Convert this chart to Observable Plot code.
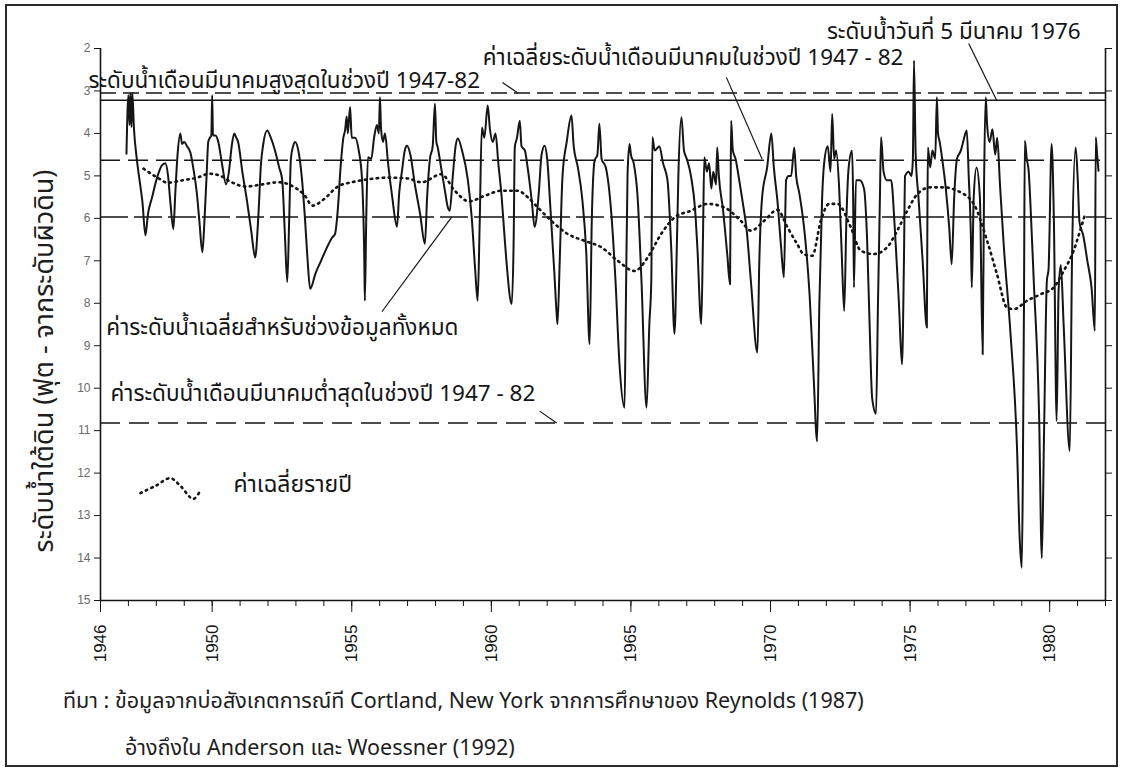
<!DOCTYPE html>
<html>
<head>
<meta charset="utf-8">
<script src="https://cdn.jsdelivr.net/npm/d3@7"></script>
<script src="https://cdn.jsdelivr.net/npm/@observablehq/plot@0.6"></script>
<style>
  body { margin: 0; background: #fff; }
  #wrap { position: relative; width: 1125px; height: 771px; overflow: hidden;
          font-family: "Noto Sans Thai", "Noto Serif Thai", "Loma", "Garuda", "Norasi", "Liberation Sans", "DejaVu Sans", sans-serif;
          color: #1e1e1e; }
  .frame { position: absolute; left: 5px; top: 4px; width: 1113px; height: 763px;
           border: 2px solid #2a2a2a; box-sizing: border-box; }
  #chart { position: absolute; left: 0; top: 0; }
  .ylab { position: absolute; left: 44px; top: 361px; transform: translate(-50%, -50%) rotate(-90deg);
          white-space: nowrap; font-size: 27px; }
  .cap { position: absolute; white-space: nowrap; font-size: 21.5px; transform: translateY(-50%); }
</style>
</head>
<body>
<div id="wrap">
  <div class="frame"></div>
  <div id="chart"></div>
  <div class="ylab">ระดับน้ำใต้ดิน (ฟุต - จากระดับผิวดิน)</div>
  <div class="cap" style="left:63px; top:701px;">ทีมา : ข้อมูลจากบ่อสังเกตการณ์ที Cortland, New York จากการศึกษาของ Reynolds (1987)</div>
  <div class="cap" style="left:125px; top:748px;">อ้างถึงใน Anderson และ Woessner (1992)</div>
</div>
<script>
// Depth to groundwater (ft below land surface), Cortland NY observation well: [year, depth]
const hydrograph = [
  [1946.93,4.48],[1947.00,3.10],[1947.04,3.80],[1947.07,3.05],[1947.11,3.85],[1947.14,3.05],[1947.20,3.90],
  [1947.30,4.60],[1947.42,5.20],[1947.50,5.60],[1947.61,6.40],[1947.70,5.90],[1947.85,5.50],[1948.00,5.10],
  [1948.20,4.75],[1948.32,4.70],[1948.42,5.00],[1948.50,5.60],[1948.61,6.25],[1948.68,5.40],[1948.76,4.50],
  [1948.86,4.00],[1948.92,4.25],[1949.00,4.20],[1949.10,4.30],[1949.22,4.45],[1949.32,4.80],[1949.45,5.40],
  [1949.54,6.05],[1949.65,6.80],[1949.72,6.10],[1949.80,5.00],[1949.86,4.20],[1949.92,4.10],[1949.97,4.05],
  [1950.00,3.10],[1950.03,4.05],[1950.12,4.05],[1950.22,4.20],[1950.36,4.75],[1950.50,5.20],[1950.60,4.90],
  [1950.70,4.30],[1950.79,4.00],[1950.86,4.10],[1950.93,4.20],[1951.08,4.90],[1951.25,5.60],[1951.40,6.30],
  [1951.54,6.92],[1951.65,6.00],[1951.75,4.70],[1951.83,4.25],[1951.97,3.93],[1952.10,4.10],[1952.25,4.40],
  [1952.40,4.80],[1952.51,5.10],[1952.60,6.30],[1952.69,7.50],[1952.76,6.00],[1952.82,4.60],[1952.90,4.30],
  [1952.97,4.20],[1953.10,4.45],[1953.22,5.10],[1953.33,6.06],[1953.42,7.00],[1953.51,7.66],[1953.70,7.30],
  [1953.90,7.00],[1954.10,6.70],[1954.30,6.45],[1954.40,6.37],[1954.50,5.80],[1954.60,4.80],[1954.70,4.10],
  [1954.76,3.93],[1954.82,3.60],[1954.86,4.00],[1954.94,3.38],[1955.00,4.10],[1955.12,4.10],[1955.25,4.40],
  [1955.37,5.10],[1955.45,7.00],[1955.47,7.94],[1955.52,6.00],[1955.58,4.56],[1955.70,4.60],[1955.80,4.10],
  [1955.90,3.80],[1955.97,4.00],[1956.01,3.15],[1956.05,3.90],[1956.12,4.20],[1956.19,4.00],[1956.30,4.70],
  [1956.45,5.50],[1956.62,6.20],[1956.70,5.40],[1956.80,4.88],[1956.90,4.40],[1956.98,4.29],[1957.10,4.50],
  [1957.26,5.20],[1957.45,5.90],[1957.62,6.60],[1957.70,5.50],[1957.80,4.60],[1957.90,4.30],[1957.98,3.30],
  [1958.03,4.20],[1958.08,4.33],[1958.20,4.80],[1958.35,5.40],[1958.44,5.74],[1958.51,5.82],[1958.62,5.00],
  [1958.72,4.30],[1958.80,4.12],[1958.95,4.40],[1959.16,5.10],[1959.30,6.00],[1959.42,7.20],[1959.51,7.94],
  [1959.58,6.20],[1959.66,3.86],[1959.75,4.10],[1959.87,3.34],[1959.95,3.90],[1960.05,4.20],[1960.15,4.00],
  [1960.25,4.70],[1960.37,5.50],[1960.47,6.40],[1960.55,7.08],[1960.73,8.02],[1960.80,6.50],[1960.84,4.33],
  [1960.92,4.10],[1961.02,3.70],[1961.08,4.30],[1961.20,4.40],[1961.30,4.80],[1961.45,5.60],[1961.55,6.20],
  [1961.70,5.40],[1961.80,4.50],[1961.91,4.29],[1962.00,4.60],[1962.12,5.80],[1962.25,7.20],[1962.34,8.25],
  [1962.37,8.49],[1962.45,7.00],[1962.55,5.00],[1962.70,4.20],[1962.87,3.58],[1962.95,4.30],[1963.10,4.80],
  [1963.25,5.50],[1963.40,6.80],[1963.52,8.96],[1963.60,6.00],[1963.70,4.64],[1963.80,4.50],[1963.87,3.77],
  [1963.95,4.60],[1964.10,4.80],[1964.30,5.90],[1964.45,7.50],[1964.59,9.43],[1964.77,10.46],[1964.82,8.00],
  [1964.88,4.95],[1964.95,4.25],[1965.00,4.50],[1965.10,4.70],[1965.24,5.50],[1965.38,7.50],[1965.56,10.46],
  [1965.66,8.50],[1965.73,7.47],[1965.77,4.09],[1965.85,4.40],[1966.02,4.30],[1966.15,4.70],[1966.31,5.10],
  [1966.45,6.80],[1966.56,8.72],[1966.65,6.50],[1966.70,5.00],[1966.81,3.62],[1966.90,4.40],[1967.00,4.60],
  [1967.15,5.00],[1967.30,5.80],[1967.38,6.68],[1967.52,8.49],[1967.58,6.50],[1967.63,4.56],[1967.72,4.90],
  [1967.80,4.70],[1967.88,5.30],[1967.95,4.90],[1968.05,5.20],[1968.09,4.33],[1968.15,5.00],[1968.30,5.80],
  [1968.45,6.84],[1968.55,7.55],[1968.57,5.50],[1968.59,3.70],[1968.65,4.40],[1968.75,4.60],[1968.88,5.10],
  [1969.00,5.60],[1969.15,6.30],[1969.30,7.50],[1969.53,9.16],[1969.60,7.00],[1969.70,5.50],[1969.88,4.80],
  [1970.03,4.00],[1970.12,4.80],[1970.25,5.60],[1970.38,6.68],[1970.48,7.39],[1970.56,5.10],[1970.65,5.00],
  [1970.74,5.00],[1970.85,4.33],[1970.92,5.00],[1971.03,5.40],[1971.20,6.20],[1971.40,7.80],[1971.55,9.80],
  [1971.67,11.25],[1971.75,8.00],[1971.85,5.50],[1971.92,4.71],[1972.05,4.30],[1972.15,4.90],[1972.21,3.54],
  [1972.28,4.60],[1972.35,4.40],[1972.46,5.30],[1972.55,6.80],[1972.64,8.18],[1972.72,6.00],[1972.80,4.80],
  [1972.92,4.41],[1972.96,5.50],[1972.99,7.63],[1973.06,5.10],[1973.20,5.10],[1973.35,5.30],[1973.46,6.50],
  [1973.55,8.50],[1973.64,10.22],[1973.78,10.60],[1973.85,8.00],[1973.92,5.50],[1973.96,4.09],[1974.05,4.90],
  [1974.17,5.10],[1974.32,5.10],[1974.45,6.20],[1974.60,8.00],[1974.71,9.44],[1974.78,7.00],[1974.82,5.00],
  [1974.95,4.90],[1975.05,5.00],[1975.10,4.60],[1975.14,2.28],[1975.20,4.50],[1975.30,5.50],[1975.45,7.00],
  [1975.60,8.57],[1975.62,6.00],[1975.64,4.33],[1975.72,4.80],[1975.80,4.40],[1975.90,4.60],[1975.96,3.15],
  [1976.00,4.00],[1976.06,4.20],[1976.15,4.60],[1976.28,5.30],[1976.40,6.20],[1976.49,7.08],[1976.58,5.50],
  [1976.68,4.60],[1976.82,4.40],[1976.90,4.20],[1977.03,3.93],[1977.10,5.00],[1977.18,6.50],[1977.21,7.63],
  [1977.28,5.50],[1977.38,4.80],[1977.50,5.50],[1977.60,9.20],[1977.65,5.20],[1977.71,3.15],[1977.76,3.80],
  [1977.85,4.20],[1977.95,3.90],[1978.05,4.50],[1978.12,4.10],[1978.22,5.20],[1978.36,6.68],[1978.59,8.65],
  [1978.83,11.40],[1978.93,13.60],[1979.00,14.23],[1979.04,12.00],[1979.08,8.00],[1979.11,4.17],[1979.18,4.60],
  [1979.25,4.90],[1979.30,5.50],[1979.43,7.47],[1979.62,10.60],[1979.72,14.00],[1979.80,11.00],[1979.90,7.47],
  [1979.96,7.20],[1980.07,4.25],[1980.15,6.00],[1980.25,10.77],[1980.32,7.70],[1980.40,7.10],[1980.50,8.50],
  [1980.72,11.48],[1980.80,7.00],[1980.93,4.33],[1981.00,5.00],[1981.07,6.10],[1981.20,6.40],[1981.35,7.00],
  [1981.50,7.63],[1981.62,8.65],[1981.65,4.09],[1981.70,4.50],[1981.75,4.88]
];

// Annual running mean of depth: [year, depth]
const annualMean = [
  [1947.54,4.83],[1948.04,5.04],[1948.40,5.16],[1948.97,5.10],[1949.47,5.04],[1949.90,4.95],[1950.30,5.00],
  [1950.70,5.15],[1951.20,5.25],[1951.80,5.20],[1952.40,5.15],[1952.90,5.25],[1953.30,5.45],[1953.60,5.70],
  [1954.00,5.55],[1954.50,5.25],[1955.00,5.15],[1955.60,5.08],[1956.30,5.04],[1957.00,5.06],[1957.50,5.15],
  [1958.21,4.96],[1958.69,5.35],[1959.20,5.60],[1959.76,5.47],[1960.36,5.35],[1960.94,5.35],[1961.30,5.50],
  [1961.66,5.74],[1962.15,6.06],[1962.74,6.37],[1963.34,6.53],[1963.94,6.68],[1964.53,7.00],[1965.13,7.24],
  [1965.60,6.92],[1966.08,6.37],[1966.56,5.98],[1967.15,5.82],[1967.75,5.66],[1968.34,5.74],[1968.94,6.06],
  [1969.30,6.29],[1969.77,6.06],[1970.25,5.80],[1970.60,6.20],[1970.95,6.60],[1971.20,6.85],[1971.50,6.88],
  [1971.80,6.06],[1972.10,5.66],[1972.40,5.66],[1972.87,6.20],[1973.23,6.76],[1973.70,6.84],[1974.18,6.68],
  [1974.54,6.29],[1974.90,5.82],[1975.26,5.43],[1975.73,5.27],[1976.21,5.27],[1976.69,5.35],[1977.28,5.66],
  [1977.76,6.53],[1978.11,7.31],[1978.47,8.10],[1978.71,8.14],[1979.19,7.94],[1979.67,7.79],[1980.14,7.63],
  [1980.50,7.24],[1980.86,6.76],[1981.09,6.29],[1981.27,5.90]
];

// Reference levels (ft)
const marchHighest = 3.05;   // highest March level 1947-82
const march5_1976 = 3.22;    // level on 5 March 1976
const marchMean = 4.63;      // mean March level 1947-82
const overallMean = 5.97;    // mean level for the whole record
const marchLowest = 10.82;   // lowest March level 1947-82

// Legend key sample of the dotted annual-mean line
const legendKey = [[1947.43,12.47],[1947.97,12.30],[1948.50,12.12],[1948.86,12.30],[1949.32,12.61],[1949.57,12.42]];

// Axis ticks
const levelTicks = [2,3,4,5,6,7,8,9,10,11,12,13,14,15];
const yearLabels = [1946,1950,1955,1960,1965,1970,1975,1980];
const yearMinor = d3.range(1946, 1983);

const thai = '"Noto Sans Thai", "Noto Serif Thai", "Loma", "Garuda", "Norasi", "Liberation Sans", "DejaVu Sans", sans-serif';
const ink = "#151515";
const labelSize = 22.5;

const chart = Plot.plot({
  width: 1125,
  height: 680,
  marginLeft: 100,
  marginRight: 20,
  marginTop: 48,
  marginBottom: 80,
  x: {domain: [1946, 1982]},
  y: {domain: [2, 15], reverse: true},
  style: {background: "transparent", color: ink, fontFamily: "Liberation Sans, Arial, sans-serif"},
  marks: [
    // frame: left, right and bottom axis lines
    Plot.ruleX([1946, 1982], {y1: 2, y2: 15, stroke: ink, strokeWidth: 1.6}),
    Plot.ruleY([15], {x1: 1946, x2: 1982, stroke: ink, strokeWidth: 1.6}),
    Plot.axisY({anchor: "left", ticks: levelTicks, tickSize: 6, tickPadding: 4, fontSize: 12,
                fill: "#6a6a6a", stroke: ink, label: null}),
    Plot.axisY({anchor: "right", ticks: levelTicks, tickSize: 6, tickFormat: () => "", stroke: ink, label: null}),
    Plot.axisX({ticks: yearMinor, tickSize: 6, tickFormat: () => "", stroke: ink, label: null}),
    Plot.axisX({ticks: yearLabels, tickSize: 12, tickPadding: 12, tickRotate: -90, fontSize: 17,
                tickFormat: d => String(d), stroke: ink, fill: ink, label: null}),

    // reference levels
    Plot.ruleY([marchHighest], {x1: 1946, x2: 1982, stroke: ink, strokeWidth: 1.5, strokeDasharray: "16,7"}),
    Plot.ruleY([march5_1976], {x1: 1946, x2: 1982, stroke: ink, strokeWidth: 1.5}),
    Plot.ruleY([marchMean], {x1: 1946, x2: 1982, stroke: ink, strokeWidth: 1.5, strokeDasharray: "20,8"}),
    Plot.ruleY([overallMean], {x1: 1946, x2: 1982, stroke: ink, strokeWidth: 1.5, strokeDasharray: "28,6"}),
    Plot.ruleY([marchLowest], {x1: 1946, x2: 1982, stroke: ink, strokeWidth: 1.5, strokeDasharray: "20,9"}),

    // annual mean (dotted) and hydrograph
    Plot.line(annualMean, {x: d => d[0], y: d => d[1], stroke: ink, strokeWidth: 2.6,
                           strokeDasharray: "1.5,4.5", strokeLinecap: "round", curve: "monotone-x"}),
    Plot.line(hydrograph, {x: d => d[0], y: d => d[1], stroke: ink, strokeWidth: 2, curve: "monotone-x"}),

    // annotations and leaders
    Plot.link([0], {x1: 1960.40, y1: 2.80, x2: 1960.95, y2: 3.05, stroke: ink, strokeWidth: 1.2}),
    Plot.link([0], {x1: 1968.42, y1: 2.68, x2: 1969.70, y2: 4.60, stroke: ink, strokeWidth: 1.2}),
    Plot.link([0], {x1: 1977.10, y1: 1.88, x2: 1978.10, y2: 3.22, stroke: ink, strokeWidth: 1.2}),
    Plot.link([0], {x1: 1956.08, y1: 8.20, x2: 1958.58, y2: 5.97, stroke: ink, strokeWidth: 1.2}),
    Plot.link([0], {x1: 1961.73, y1: 10.54, x2: 1962.34, y2: 10.82, stroke: ink, strokeWidth: 1.2}),
    Plot.text(["ระดับน้ำเดือนมีนาคมสูงสุดในช่วงปี 1947-82"], {x: 1945.57, y: 2.75, text: d => d,
      textAnchor: "start", fontSize: labelSize, fontFamily: thai, fill: ink}),
    Plot.text(["ค่าเฉลี่ยระดับน้ำเดือนมีนาคมในช่วงปี 1947 - 82"], {x: 1959.69, y: 2.21, text: d => d,
      textAnchor: "start", fontSize: labelSize, fontFamily: thai, fill: ink}),
    Plot.text(["ระดับน้ำวันที่ 5 มีนาคม 1976"], {x: 1972.02, y: 1.60, text: d => d,
      textAnchor: "start", fontSize: labelSize, fontFamily: thai, fill: ink}),
    Plot.text(["ค่าระดับน้ำเฉลี่ยสำหรับช่วงข้อมูลทั้งหมด"], {x: 1946.21, y: 8.58, text: d => d,
      textAnchor: "start", fontSize: labelSize, fontFamily: thai, fill: ink}),
    Plot.text(["ค่าระดับน้ำเดือนมีนาคมต่ำสุดในช่วงปี 1947 - 82"], {x: 1946.36, y: 10.14, text: d => d,
      textAnchor: "start", fontSize: labelSize, fontFamily: thai, fill: ink}),

    // legend
    Plot.line(legendKey, {x: d => d[0], y: d => d[1], stroke: ink, strokeWidth: 2.6,
                          strokeDasharray: "1.5,4.5", strokeLinecap: "round", curve: "catmull-rom"}),
    Plot.text(["ค่าเฉลี่ยรายปี"], {x: 1950.76, y: 12.28, text: d => d,
      textAnchor: "start", fontSize: 23, fontFamily: thai, fill: ink})
  ]
});

document.getElementById("chart").appendChild(chart);
</script>
</body>
</html>
